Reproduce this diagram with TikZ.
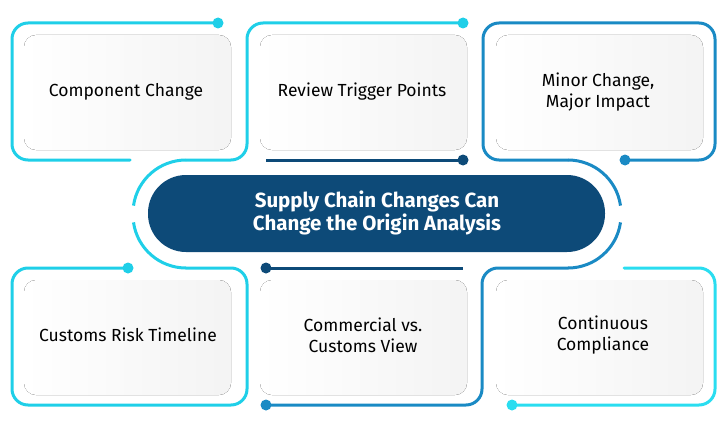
\documentclass[tikz,border=0pt]{standalone}
\usepackage{fontspec}
\setmainfont{Fira Sans}
\begin{document}
\begin{tikzpicture}[x=1pt,y=-1pt,
  ln/.style={line width=3pt,rounded corners=16pt,line cap=round},
  dot/.style={circle,fill=#1,minimum size=11pt,inner sep=0pt},
  inner/.style={rounded corners=12pt,left color=white,right color=gray!9},
  lab/.style={font=\fontsize{17.5}{21}\selectfont,align=center,text=black}]
\definecolor{cy}{HTML}{1FCFE8}
\definecolor{cyb}{HTML}{2ADDF0}
\definecolor{mb}{HTML}{1A8AC4}
\definecolor{nv}{HTML}{0D4A78}
\useasboundingbox (0,0) rectangle (728,428);
% inner panels
\foreach \x/\y in {24/35,260/35,496/35,24/280,260/280,496/280}
  \fill[inner] (\x,\y) rectangle ++(207,115);
% pill
\fill[nv,rounded corners=38pt] (148,175) rectangle (605,252);
% box1
\draw[ln,cy] (218,23) -- (12,23) -- (12,160) -- (130,160);
% box2 outline continuing round pill
\draw[ln,cy,rounded corners=16pt] (463,23) -- (247,23) -- (247,160) -- (186,160);
\draw[cy,line width=3pt] (186,160) arc[start angle=-90,end angle=-172,radius=53];
\draw[line width=3pt,nv] (266,160) -- (463,160);
% box3
\draw[ln,mb] (625,160) -- (715,160) -- (715,23) -- (483,23) -- (483,160) -- (568,160);
\draw[mb,line width=3pt] (568,160) arc[start angle=-90,end angle=-8,radius=53];
% box4
\draw[ln,cy] (128,268) -- (12,268) -- (12,405) -- (247,405) -- (247,268) -- (186,268);
\draw[cy,line width=3pt] (186,268) arc[start angle=90,end angle=172,radius=53];
% box5
\draw[line width=3pt,nv] (266,268) -- (463,268);
\draw[ln,mb] (266,405) -- (482,405) -- (482,268) -- (568,268);
\draw[mb,line width=3pt] (568,268) arc[start angle=90,end angle=8,radius=53];
% box6
\draw[ln,cyb] (624,268) -- (715,268) -- (715,405) -- (512,405);
% dots
\node[dot=cy] (d1) at (218,23) {};
\node[dot=cy] (d2) at (463,23) {};
\node[dot=nv] (d3) at (463,160) {};
\node[dot=mb] (d4) at (625,160) {};
\node[dot=cy] (d5) at (128,268) {};
\node[dot=nv] (d6) at (266,268) {};
\node[dot=mb] (d7) at (266,405) {};
\node[dot=cyb] (d8) at (512,405) {};
% texts
\node[lab] (t1) at (126,92) {Component Change};
\node[lab] (t2) at (362,92) {Review Trigger Points};
\node[lab] (t3) at (598,92) {Minor Change,\\Major Impact};
\node[lab] (t4) at (128,335) {Customs Risk Timeline};
\node[lab] (t5) at (363,335) {Commercial vs.\\Customs View};
\node[lab] (t6) at (603,335) {Continuous\\Compliance};
\node[font=\fontsize{20.5}{23}\selectfont\bfseries,text=white,align=center] (c) at (377,213) {Supply Chain Changes Can\\Change the Origin Analysis};
\end{tikzpicture}
\end{document}
